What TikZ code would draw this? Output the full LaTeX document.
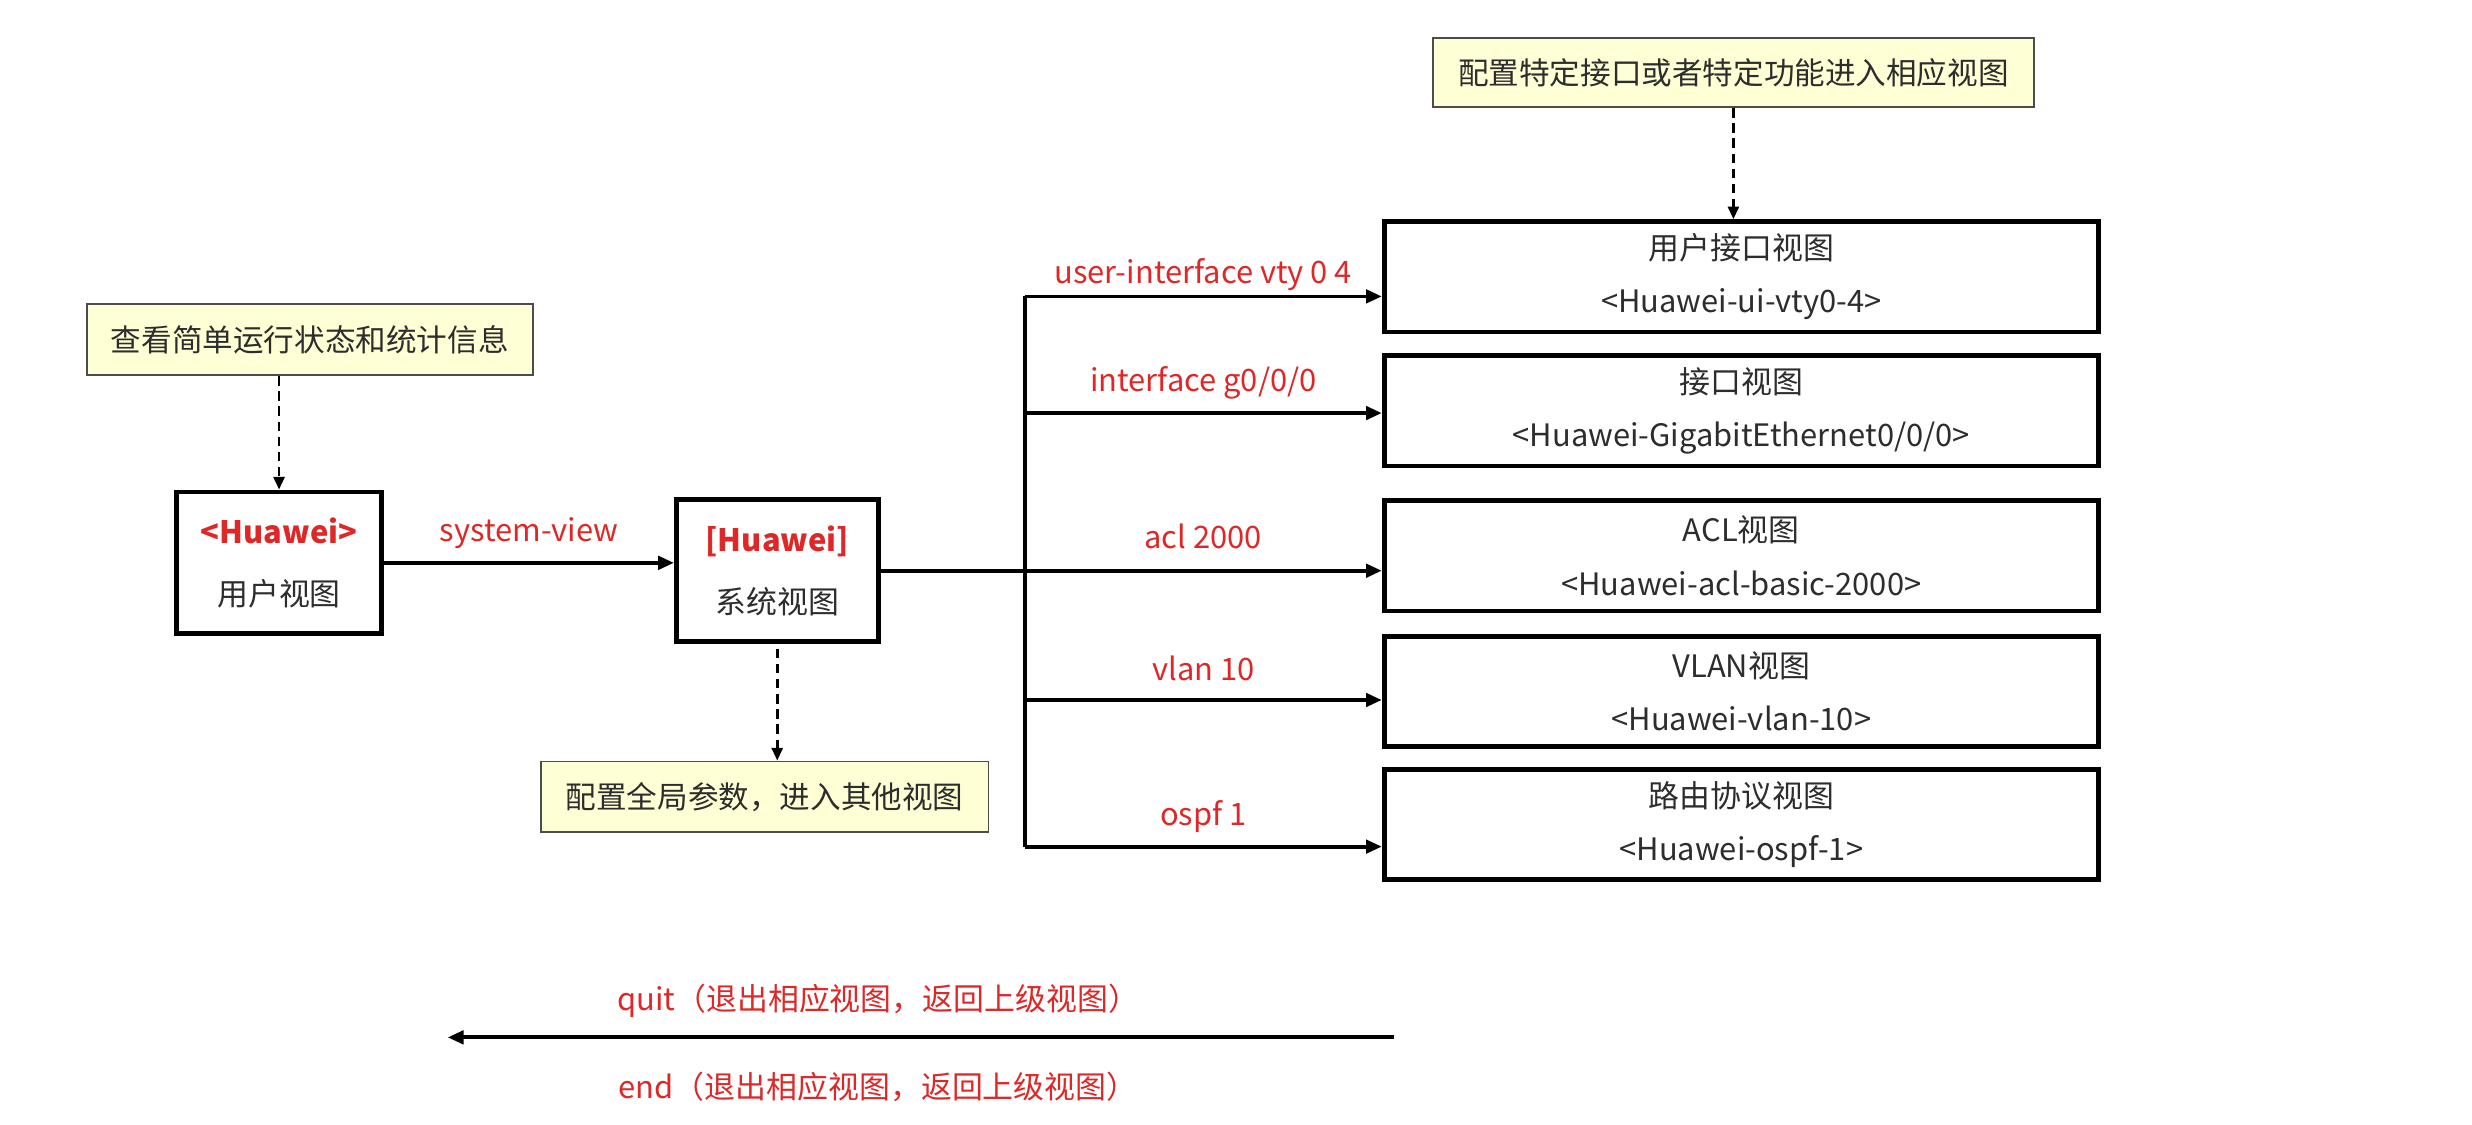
\documentclass[tikz,border=0pt]{standalone}
\usepackage{fontspec}
\setmainfont{Noto Sans CJK SC}
\usetikzlibrary{arrows.meta}
\definecolor{hwred}{RGB}{222,40,40}
\definecolor{notefill}{RGB}{255,255,214}
\definecolor{txtgray}{RGB}{45,45,45}
\tikzset{
  viewbox/.style={draw=black, line width=1.5pt, align=center, text=txtgray,
    minimum width=226.5pt, minimum height=35pt, inner sep=0pt,
    font=\fontsize{9.8}{17}\selectfont},
  modebox/.style={viewbox, minimum width=65pt, minimum height=45pt,
    font=\fontsize{9.8}{19.5}\selectfont},
  notebox/.style={draw=black!70, fill=notefill, line width=0.6pt, text=txtgray,
    inner sep=0pt, minimum height=22.5pt, font=\fontsize{9.7}{12}\selectfont},
  cmd/.style={text=hwred, font=\fontsize{9.8}{12}\selectfont},
  solidarrow/.style={line width=1.2pt, -{Triangle[length=5pt,width=4.2pt]}},
  hintarrow/.style={line width=0.8pt, dash pattern=on 3pt off 1.8pt,
    -{Triangle[length=4pt,width=3.5pt]}}
}
\begin{document}
\begin{tikzpicture}[x=0.5pt, y=-0.5pt]
  \useasboundingbox (0,0) rectangle (1568,713);
  % user view and system view
  \node[modebox] (user-view) at (177,357)
    {\textcolor{hwred}{\textbf{<Huawei>}}\\用户视图};
  \node[modebox, minimum width=64pt] (sys-view) at (493,362)
    {\textcolor{hwred}{\textbf{[Huawei]}}\\系统视图};
  \node[notebox, minimum width=141.5pt] (user-note) at (196.5,215.5)
    {查看简单运行状态和统计信息};
  \node[notebox, minimum width=142pt] (sys-note) at (485,505.5)
    {配置全局参数，进入其他视图};
  % the views entered from the system view
  \node[viewbox] (vty-view) at (1104.5,175.5) {用户接口视图\\<Huawei-ui-vty0-4>};
  \node[viewbox] (if-view) at (1104.5,260.5) {接口视图\\<Huawei-GigabitEthernet0/0/0>};
  \node[viewbox] (acl-view) at (1104.5,352.5) {ACL视图\\<Huawei-acl-basic-2000>};
  \node[viewbox] (vlan-view) at (1104.5,438.5) {VLAN视图\\<Huawei-vlan-10>};
  \node[viewbox] (ospf-view) at (1104.5,523) {路由协议视图\\<Huawei-ospf-1>};
  \node[notebox, minimum width=190.5pt, minimum height=22pt] (view-note) at (1099.5,46)
    {配置特定接口或者特定功能进入相应视图};

  \draw[hintarrow] (user-view.north |- user-note.south) -- (user-view.north);
  \draw[hintarrow, shorten <=1.5pt] (sys-view.south) -- (sys-view.south |- sys-note.north);
  \draw[hintarrow] (view-note.south) -- (view-note.south |- vty-view.north);

  \draw[solidarrow] (user-view.east) -- (user-view.east -| sys-view.west)
    node[cmd, midway, above=0.5pt] {system-view};

  \coordinate (fork-ui) at (650,188);
  \coordinate (fork-if) at (650,262);
  \coordinate (fork-acl) at (650,362);
  \coordinate (fork-vlan) at (650,444);
  \coordinate (fork-ospf) at (650,537);
  \draw[line width=1.2pt] (sys-view.east) -- (fork-acl);
  \draw[line width=1.2pt] (fork-ui) -- (fork-ospf);
  \draw[solidarrow] (fork-ui) -- (fork-ui -| vty-view.west)
    node[cmd, midway, above=-2pt] {user-interface vty 0 4};
  \draw[solidarrow] (fork-if) -- (fork-if -| if-view.west)
    node[cmd, midway, above=0.5pt] {interface g0/0/0};
  \draw[solidarrow] (fork-acl) -- (fork-acl -| acl-view.west)
    node[cmd, midway, above=3pt] {acl 2000};
  \draw[solidarrow] (fork-vlan) -- (fork-vlan -| vlan-view.west)
    node[cmd, midway, above=2pt] {vlan 10};
  \draw[solidarrow] (fork-ospf) -- (fork-ospf -| ospf-view.west)
    node[cmd, midway, above=0.5pt] {ospf 1};

  % going back
  \coordinate (back-from) at (884,658);
  \coordinate (back-to) at (284,658);
  \draw[solidarrow] (back-from) -- (back-to)
    node[cmd, pos=0.545, above=2.5pt] {quit（退出相应视图，返回上级视图）}
    node[cmd, pos=0.545, below=7pt] {end（退出相应视图，返回上级视图）};
\end{tikzpicture}
\end{document}
